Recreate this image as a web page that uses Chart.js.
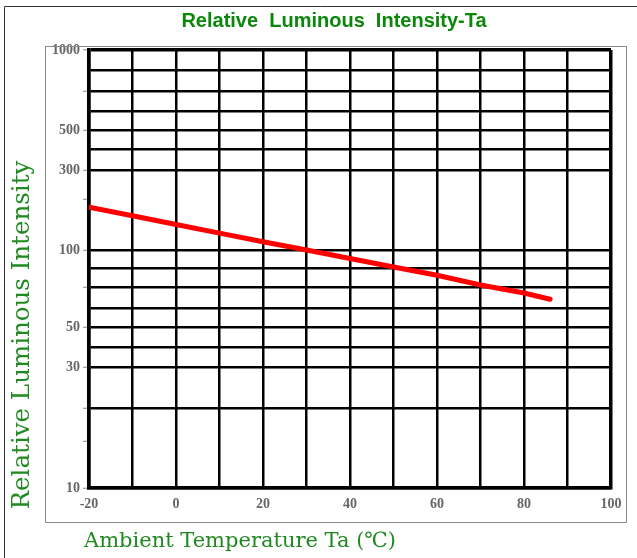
<!DOCTYPE html>
<html>
<head>
<meta charset="utf-8">
<script src="https://cdn.jsdelivr.net/npm/chart.js@4"></script>
<style>
  html, body { margin: 0; padding: 0; background: #fff; }
  #wrap { width: 637px; height: 558px; }
</style>
</head>
<body>
<div id="wrap"><canvas id="c" width="637" height="558"></canvas></div>
<script>
// ---- data ----
const temps = [-20, -10, 0, 10, 20, 30, 40, 50, 60, 70, 80, 86];
const intensity = [180, 160, 142, 126, 112, 100, 90, 81, 76, 71, 67, 64];

const xTickLabels = [-20, 0, 20, 40, 60, 80, 100];
const yGridValues = [10, 20, 30, 40, 50, 60, 70, 80, 100, 300, 400, 500, 600, 700, 800, 1000];
const yTickMarkValues = [10, 15, 20, 30, 50, 70, 100, 200, 300, 500, 700, 1000];
const yTickLabels = [10, 30, 50, 100, 300, 500, 1000];

const chartTitle = 'Relative  Luminous  Intensity-Ta';
const yTitle = 'Relative Luminous Intensity';
const xTitle = 'Ambient Temperature Ta (\u2103)';

// The printed grid of the original is a hand-drawn, non-uniform log grid:
// each grid value sits at this fraction of the plot height.
const yAxisWarp = [
  [10, 0], [20, 0.1826], [30, 0.2763], [40, 0.3219], [50, 0.3676],
  [60, 0.4110], [70, 0.4589], [80, 0.5023], [100, 0.5434], [300, 0.7260],
  [400, 0.7740], [500, 0.8174], [600, 0.8607], [700, 0.9064], [800, 0.9543],
  [1000, 1]
];

class WarpedLogScale extends Chart.LogarithmicScale {
  static id = 'warpedLog';
  _fracForValue(value) {
    const a = yAxisWarp;
    const lv = Math.log10(value);
    for (let i = 0; i < a.length - 1; i++) {
      const l0 = Math.log10(a[i][0]), l1 = Math.log10(a[i + 1][0]);
      if (lv <= l1 || i === a.length - 2) {
        return a[i][1] + (lv - l0) / (l1 - l0) * (a[i + 1][1] - a[i][1]);
      }
    }
    return 0;
  }
  getPixelForValue(value) {
    if (value === undefined || value === 0) value = this.min;
    if (value === null || isNaN(value)) return NaN;
    return this.getPixelForDecimal(this._fracForValue(value));
  }
  getValueForPixel(pixel) {
    const f = this.getDecimalForPixel(pixel);
    const a = yAxisWarp;
    for (let i = 0; i < a.length - 1; i++) {
      if (f <= a[i + 1][1] || i === a.length - 2) {
        const l0 = Math.log10(a[i][0]), l1 = Math.log10(a[i + 1][0]);
        const t = (f - a[i][1]) / (a[i + 1][1] - a[i][1]);
        return Math.pow(10, l0 + t * (l1 - l0));
      }
    }
    return this.max;
  }
}
Chart.register(WarpedLogScale);

const decorPlugin = {
  id: 'decor',
  beforeDraw(chart) {
    const ctx = chart.ctx;
    ctx.save();
    ctx.fillStyle = '#ffffff';
    ctx.fillRect(0, 0, chart.width, chart.height);
    ctx.restore();
  },
  afterDraw(chart) {
    const ctx = chart.ctx;
    ctx.save();
    // outer frame (top + left)
    ctx.strokeStyle = '#333';
    ctx.lineWidth = 1;
    ctx.beginPath();
    ctx.moveTo(4.5, 558); ctx.lineTo(4.5, 6.5); ctx.lineTo(637, 6.5);
    ctx.stroke();
    // inner thin box
    ctx.strokeStyle = '#8a8a8a';
    ctx.strokeRect(45.5, 46.5, 581, 476);

    // title
    ctx.fillStyle = '#0b870b';
    ctx.font = 'bold 20px "Liberation Sans", Arial, sans-serif';
    ctx.textAlign = 'center';
    ctx.textBaseline = 'middle';
    ctx.fillText(chartTitle, 334, 21);

    // axis titles
    ctx.fillStyle = '#1f8a1f';
    ctx.font = '21px "DejaVu Serif", serif';
    ctx.textAlign = 'center';
    ctx.textBaseline = 'middle';
    ctx.fillText(xTitle, 240, 542);
    ctx.font = '24.5px "DejaVu Serif", serif';
    ctx.translate(23, 335);
    ctx.rotate(-Math.PI / 2);
    ctx.fillText(yTitle, 0, 0);
    ctx.restore();
  }
};

const tickFont = { family: '"Liberation Serif", "Times New Roman", serif', size: 14, weight: 'bold' };

new Chart(document.getElementById('c'), {
  type: 'line',
  data: {
    datasets: [{
      data: temps.map((t, i) => ({ x: t, y: intensity[i] })),
      borderColor: '#ff0000',
      borderWidth: 5,
      borderCapStyle: 'round',
      pointRadius: 0,
      tension: 0,
      fill: false
    }]
  },
  options: {
    responsive: false,
    animation: false,
    layout: { padding: { left: 0, right: 26, top: 50, bottom: 0 } },
    plugins: { legend: { display: false }, tooltip: { enabled: false }, title: { display: false } },
    scales: {
      x: {
        type: 'linear',
        min: -20, max: 100,
        afterFit(scale) { scale.height = 70; },
        ticks: {
          stepSize: 10,
          autoSkip: false,
          maxRotation: 0,
          padding: 8,
          color: '#666',
          font: tickFont,
          callback: (v) => xTickLabels.includes(v) ? String(v) : ''
        },
        grid: {
          color: '#000',
          lineWidth: (c) => (c.tick && c.tick.value === 100) ? 3.5 : 2.5,
          drawTicks: false
        },
        border: { display: true, color: '#000', width: 3.5 }
      },
      y: {
        type: 'warpedLog',
        min: 10, max: 1000,
        afterFit(scale) { scale.width = 89; },
        afterBuildTicks(scale) {
          const vals = Array.from(new Set(yGridValues.concat(yTickMarkValues))).sort((a, b) => a - b);
          scale.ticks = vals.map(v => ({ value: v }));
        },
        ticks: {
          autoSkip: false,
          padding: 3,
          color: '#666',
          font: tickFont,
          callback: (v) => yTickLabels.includes(v) ? String(v) : ''
        },
        grid: {
          color: (c) => (c.tick && yGridValues.includes(c.tick.value)) ? '#000' : 'rgba(0,0,0,0)',
          lineWidth: (c) => (c.tick && c.tick.value === 1000) ? 3.5 : 2.5,
          tickLength: 6,
          tickWidth: 1,
          tickColor: (c) => (c.tick && yTickMarkValues.includes(c.tick.value)) ? '#888' : 'rgba(0,0,0,0)'
        },
        border: { display: true, color: '#000', width: 3.5 }
      }
    }
  },
  plugins: [decorPlugin]
});
</script>
</body>
</html>
